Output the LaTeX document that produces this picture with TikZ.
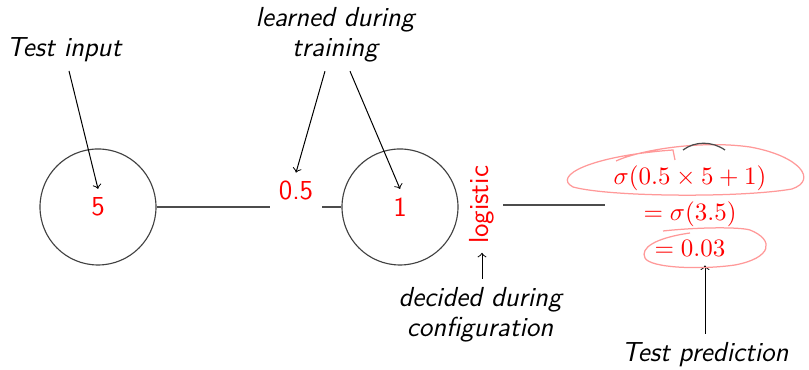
\documentclass[tikz,border=0pt]{standalone}
\usepackage{amsmath}
\begin{document}
\begin{tikzpicture}[x=0.4pt,y=-0.4pt,
  neuron/.style={draw=black!75,circle,minimum size=46.4pt,inner sep=0pt,line width=0.45pt},
  val/.style={text=red,font=\fontsize{11}{13}\sffamily},
  lab/.style={font=\fontsize{11}{12}\sffamily\itshape,align=center},
  conn/.style={draw=black!70,line width=0.5pt},
  pointer/.style={->,draw=black,line width=0.4pt},
  ink/.style={draw=red!40,line width=0.5pt}]
\useasboundingbox (0,0) rectangle (809,370);
% neurons
\node[neuron] (c1) at (98,207) {};
\node[neuron] (c2) at (400,207) {};
\node[val] (n5) at (98,207) {5};
\node[val] (n1) at (400,207) {1};
\node[val,rotate=90] (act) at (482,205) {logistic};
\node[text=red,align=center] (out) at (690,211)
  {$\sigma(0.5\times5+1)$\\[2.5pt] $=\sigma(3.5)$\\[2.5pt] $=0.03$};
% connections
\draw[conn] (c1.east) -- (c2.west);
\node[val,fill=white] (w) at (296,191) {0.5};
\draw[conn] (act.south) -- (act.south -| out.west);
% labels
\node[lab] (tin) at (64,50) {Test input};
\node[lab] (learn) at (335,35) {learned during\\training};
\node[lab] (dec) at (480,315) {decided during\\configuration};
\node[lab] (tpred) at (705,355) {Test prediction};
% pointers
\draw[pointer] ([xshift=2pt]tin.south) -- (n5.north);
\draw[pointer] ([xshift=-4pt]learn.south) -- (w.north);
\draw[pointer] ([xshift=6pt]learn.south) -- (n1.north);
\draw[pointer] (dec.north -| act.west) -- (act.west);
\draw[pointer] (tpred.north) -- (tpred.north |- out.south);
% hand-drawn annotation
\draw[ink] (616,161) .. controls (640,150) and (700,140) .. (750,147)
  .. controls (800,156) and (818,180) .. (792,189)
  .. controls (740,198) and (610,197) .. (573,187)
  .. controls (552,176) and (590,156) .. (673,150) -- (675,160);
\draw[black!70,line width=0.5pt] (683,150) .. controls (695,141) and (712,141) .. (725,150);
\draw[ink] (663,231) .. controls (700,227) and (740,227) .. (750,230)
  .. controls (775,240) and (772,258) .. (735,265)
  .. controls (700,270) and (650,268) .. (645,258)
  .. controls (640,248) and (655,238) .. (690,233);
\end{tikzpicture}
\end{document}
